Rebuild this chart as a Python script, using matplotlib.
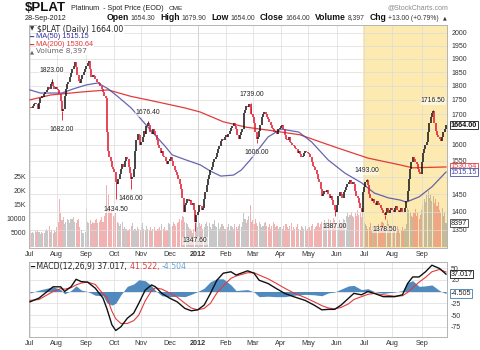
import numpy as np
import pandas as pd
import matplotlib
matplotlib.use('Agg')
import matplotlib.pyplot as plt
from matplotlib import font_manager, transforms
from matplotlib.ticker import NullLocator

# ------------------------------------------------------------------ data
# daily closes, one list per month (weekdays)
c_2011_07 = [1725,1722,1730,1735,1740,1734,1718,1740,1755,1765,1760,1772,1778,1785,1795,1790,1805,1815,1800,1790,1795]
c_2011_08 = [1790,1785,1770,1745,1712,1720,1765,1790,1805,1815,1830,1845,1860,1872,1888,1870,1840,1818,1810,1825,1840,1850,1860]
c_2011_09 = [1872,1885,1892,1860,1830,1840,1835,1825,1812,1815,1810,1800,1790,1778,1765,1755,1640,1580,1560,1550,1530,1525]
c_2011_10 = [1515,1485,1478,1495,1510,1525,1540,1530,1550,1560,1555,1530,1512,1495,1500,1525,1580,1615,1635,1630,1600]
c_2011_11 = [1610,1625,1645,1635,1660,1672,1665,1640,1635,1650,1645,1630,1615,1600,1590,1575,1580,1565,1560,1550,1540,1550]
c_2011_12 = [1555,1560,1548,1535,1522,1515,1505,1495,1480,1465,1440,1400,1420,1425,1435,1430,1432,1420,1425,1405,1370,1390]
c_2012_01 = [1400,1420,1415,1405,1410,1435,1455,1475,1495,1505,1520,1530,1545,1555,1560,1575,1585,1595,1612,1620,1615,1625]
c_2012_02 = [1630,1625,1635,1645,1655,1660,1670,1660,1650,1630,1620,1630,1640,1650,1705,1715,1730,1725,1735,1725,1700]
c_2012_03 = [1690,1670,1640,1618,1625,1645,1665,1690,1700,1708,1700,1690,1685,1675,1665,1655,1650,1640,1645,1635,1650,1655]
c_2012_04 = [1660,1665,1650,1630,1620,1615,1625,1610,1605,1600,1595,1590,1585,1575,1580,1570,1560,1565,1575,1580,1578]
c_2012_05 = [1575,1570,1560,1545,1535,1530,1520,1510,1495,1485,1465,1445,1450,1460,1455,1462,1450,1440,1445,1432,1420,1405,1400]
c_2012_06 = [1420,1445,1455,1450,1440,1455,1462,1470,1478,1485,1490,1480,1485,1478,1460,1445,1440,1425,1410,1400,1455]
c_2012_07 = [1470,1485,1490,1475,1450,1440,1430,1435,1425,1420,1430,1425,1420,1410,1405,1395,1390,1400,1410,1395,1405,1410]
c_2012_08 = [1405,1400,1410,1415,1405,1400,1402,1410,1400,1398,1410,1430,1460,1495,1525,1545,1560,1555,1545,1540,1525,1515,1510]
c_2012_09 = [1545,1575,1585,1600,1610,1640,1670,1690,1705,1712,1670,1645,1630,1625,1620,1612,1625,1640,1651,1664]

# daily volume, one list per month
v_2011_07 = [5500,5000,5200,4800,5600,5300,6000,5100,4700,5200,5000,4900,5500,6200,5800,7500,5200,6000,4800,5600,5300]
v_2011_08 = [7000,9000,17000,12000,9500,10500,8000,9000,10000,9500,8500,10000,9800,10500,9000,8500,9500,10000,7000,6000,5000,4800,5200]
v_2011_09 = [13800,9000,8500,9500,8000,9000,8500,9500,10000,8500,9000,9500,10500,9000,11000,12000,22000,19000,14000,12500,13000,11000]
v_2011_10 = [10500,12000,9000,8500,7500,8000,9000,6500,7000,6200,5800,6000,6500,7500,8500,6000,6200,5500,7000,6500,6000]
v_2011_11 = [7000,8500,6500,6000,7500,6500,6000,7000,5500,6500,7000,6000,5800,6500,7000,6000,8000,6500,7000,5500,6000,8500]
v_2011_12 = [8000,7000,7500,9000,8000,7500,8500,9000,10000,9500,11000,10500,9000,8500,8000,7000,6500,5500,5000,6500,7500,9500]
v_2012_01 = [7000,8500,7500,8000,6500,7000,8000,9000,7500,8500,7000,6500,8000,9500,7500,7000,8500,6500,7000,8000,7500,6500]
v_2012_02 = [6500,7000,8000,6000,7500,7000,6500,8000,7000,6500,7500,8000,7000,9000,12000,10000,8500,9500,11000,14800,9000]
v_2012_03 = [9500,8000,10000,8500,7500,9000,8000,7000,7500,8500,9000,7500,7000,8000,6500,7500,9000,8000,7000,7500,6500,7000]
v_2012_04 = [7000,6500,7500,6000,8000,7000,6500,7500,8500,6000,7000,6500,7000,8000,6500,6000,7500,7000,6500,7500,6000]
v_2012_05 = [6500,7000,6000,7500,8000,6500,7000,7500,8500,7000,8000,9000,8500,9500,8000,9000,10000,8500,9500,9000,10200,9500,8500]
v_2012_06 = [9000,8500,9500,8000,9000,10000,9500,11000,12000,10500,11500,12500,11000,10500,12000,11000,13000,11500,12000,10500,13500]
v_2012_07 = [9000,8000,7500,6500,7000,8500,6000,7500,6500,5500,7000,8000,6500,7500,9000,8500,7000,6000,9500,8000,7500,6500]
v_2012_08 = [6500,7000,5500,6000,7500,6500,5000,6000,7000,5500,6500,8000,14000,13000,12000,11000,10500,12000,13500,11000,12500,10000,11500]
v_2012_09 = [13000,15000,17000,16000,18500,20000,17500,19000,16500,18000,15500,17000,14500,16000,13000,12000,14000,11000,12500,8397]

# labelled highs / lows
ext_dates = ['2011-07-26','2011-08-05','2011-10-04','2011-10-20','2011-11-08','2011-12-29',
             '2012-02-29','2012-03-06','2012-05-30','2012-07-04','2012-07-24','2012-09-14']
ext_vals = [1823.00,1682.00,1434.50,1466.00,1676.40,1347.60,1739.00,1606.00,1387.00,1493.00,1378.50,1716.50]
ext_kind = ['H','L','L','L','H','L','H','L','L','H','L','H']

# moving averages
ma50_dates = ['2011-07-01','2011-07-13','2011-07-25','2011-08-05','2011-08-18','2011-09-01','2011-09-14',
              '2011-09-26','2011-10-06','2011-10-20','2011-11-08','2011-11-28','2011-12-05','2011-12-20',
              '2012-01-04','2012-01-16','2012-01-26','2012-02-09','2012-02-17','2012-02-28','2012-03-19',
              '2012-04-02','2012-04-20','2012-05-04','2012-05-23','2012-06-11','2012-06-28','2012-07-12',
              '2012-07-27','2012-08-09','2012-08-16','2012-08-30','2012-09-13','2012-09-28']
ma50_vals = [1785,1774,1774,1774,1789,1803,1810,1789,1760,1722,1658,1593,1568,1552,1537,1518,1503,1506,
             1521,1552,1625,1651,1641,1609,1552,1512,1483,1453,1439,1433,1427,1442,1471,1515.15]
ma200_dates = ['2011-07-01','2011-07-25','2011-08-29','2011-09-26','2011-10-20','2011-11-08','2011-12-19',
               '2012-01-04','2012-01-30','2012-02-23','2012-03-23','2012-04-23','2012-05-30','2012-07-05',
               '2012-08-09','2012-08-23','2012-09-28']
ma200_vals = [1750,1767,1778,1785,1762,1750,1722,1708,1675,1657,1645,1632,1593,1558,1537,1528,1530.64]

# MACD(12,26,9) line and signal
macd_dates = ['2011-07-01','2011-07-12','2011-07-27','2011-08-04','2011-08-09','2011-08-16','2011-08-22',
              '2011-08-26','2011-09-02','2011-09-12','2011-09-20','2011-09-23','2011-09-29','2011-10-04',
              '2011-10-10','2011-10-17','2011-10-24','2011-10-28','2011-11-04','2011-11-11','2011-11-16',
              '2011-11-23','2011-12-01','2011-12-09','2011-12-19','2011-12-26','2012-01-02','2012-01-09',
              '2012-01-16','2012-01-23','2012-01-30','2012-02-07','2012-02-13','2012-02-17','2012-02-24',
              '2012-03-02','2012-03-08','2012-03-19','2012-03-27','2012-04-05','2012-04-16','2012-04-27',
              '2012-05-08','2012-05-16','2012-05-23','2012-05-30','2012-06-06','2012-06-14','2012-06-20',
              '2012-06-28','2012-07-05','2012-07-12','2012-07-23','2012-08-03','2012-08-13','2012-08-17',
              '2012-08-23','2012-08-30','2012-09-06','2012-09-13','2012-09-21','2012-09-28']
macd_vals = [-22,-14,10,10,0,10,26,21,20,7,-14,-36,-71,-83,-75,-57,-46,-25,3,14,10,-4,-14,-22,-36,-41,-39,
             -29,-4,24,39,42,35,39,44,39,24,17,7,-4,-11,-19,-29,-39,-38,-38,-29,-14,-4,-7,0,-4,-11,-11,-7,
             17,31,31,42,56,49,37.017]
signal_vals = [-19,-17,0,6,5,8,14,18,20,15,-5,-12,-42,-58,-68,-68,-62,-50,-20,2,8,5,-3,-12,-25,-35,-39,
               -36,-25,-3,12,28,33,36,40,40,35,27,18,7,-3,-13,-22,-30,-35,-37,-34,-26,-17,-11,-6,-4,-7,
               -10,-9,-2,8,20,30,42,47,41.522]

price_ticks = [1350,1400,1450,1500,1550,1600,1650,1700,1750,1800,1850,1900,1950,2000]
price_tick_labels = ['1350','1400','1450','','1550','1600','','1700','1750','1800','1850','1900','1950','2000']
vol_ticks = [5000,10000,15000,20000,25000]
vol_tick_labels = ['5000','10000','15K','20K','25K']
macd_ticks = [-75,-50,-25,0,25,50]
macd_tick_labels = ['-75','-50','-25','','25','50']
month_labels = ['Jul','Aug','Sep','Oct','Nov','Dec','2012','Feb','Mar','Apr','May','Jun','Jul','Aug','Sep']

# ------------------------------------------------------------------ assemble
closes = np.array(sum([c_2011_07,c_2011_08,c_2011_09,c_2011_10,c_2011_11,c_2011_12,c_2012_01,c_2012_02,
                       c_2012_03,c_2012_04,c_2012_05,c_2012_06,c_2012_07,c_2012_08,c_2012_09], []), float)
volume = np.array(sum([v_2011_07,v_2011_08,v_2011_09,v_2011_10,v_2011_11,v_2011_12,v_2012_01,v_2012_02,
                       v_2012_03,v_2012_04,v_2012_05,v_2012_06,v_2012_07,v_2012_08,v_2012_09], []), float)
dates = pd.bdate_range('2011-07-01', '2012-09-28')
N = len(dates)
assert N == len(closes) == len(volume)
idx = np.arange(N)

def pos(dlist):
    return dates.get_indexer(pd.to_datetime(dlist), method='nearest')

prev = np.concatenate([[closes[0]], closes[:-1]])
down = closes < prev
month_start = [i for i in range(N) if i == 0 or dates[i].month != dates[i - 1].month]
hl_start = [i for i in month_start if dates[i] >= pd.Timestamp('2012-07-01')][0]
year_idx = [i for i in month_start if dates[i].month == 1][0]

# ------------------------------------------------------------------ fonts
def has_font(name):
    try:
        font_manager.findfont(font_manager.FontProperties(family=name), fallback_to_default=False)
        return True
    except Exception:
        return False
ARIAL = 'Liberation Sans'
NARROW = 'Liberation Sans Narrow' if has_font('Liberation Sans Narrow') else ARIAL
plt.rcParams['font.family'] = [ARIAL, 'DejaVu Sans']

# ------------------------------------------------------------------ figure
W, H = 480, 350
fig = plt.figure(figsize=(4.8, 3.5), dpi=100)
fig.patch.set_facecolor('white')

def rect(l, t, r, b):
    return [l / W, 1 - b / H, (r - l) / W, (b - t) / H]

GRID = '#DCDCDC'
FRAME = '#B4B4B4'
TXT = '#333333'
RED = '#E0142A'
BLUE_MA = '#4B4BA6'
RED_MA = '#E23B3B'
XL = (-0.8, N - 0.2)

axv = fig.add_axes(rect(29, 25, 447, 248), zorder=1)
ax = fig.add_axes(rect(29, 25, 447, 248), zorder=2, facecolor='none')
axm = fig.add_axes(rect(29, 262, 447, 337), zorder=1)

# ---- volume layer (bottom)
axv.set_xlim(*XL)
axv.set_ylim(-450, 79200)
axv.axvspan(hl_start - 0.6, XL[1], color='#FCEAB0', zorder=0, lw=0)
vcol = np.where(down, '#E04848', '#7A7A7A')
axv.bar(idx, volume, width=0.85, color=vcol, alpha=0.42, lw=0, zorder=2)
axv.set_yticks(vol_ticks)
axv.set_yticklabels(vol_tick_labels)
axv.tick_params(axis='y', length=0, pad=2.2, labelsize=5, colors=TXT)
axv.set_xticks([])
for s in axv.spines.values():
    s.set_visible(False)

# ---- price layer
ax.set_xlim(*XL)
ax.set_yscale('log')
ax.set_ylim(1302, 2032)
ax.yaxis.set_minor_locator(NullLocator())
ax.set_yticks(price_ticks)
ax.set_yticklabels(price_tick_labels)
ax.yaxis.tick_right()
ax.tick_params(axis='y', length=0, pad=3, labelsize=5, colors=TXT)
ax.set_xticks(month_start)
ax.set_xticklabels(month_labels)
ax.tick_params(axis='x', length=0, pad=2.5, labelsize=5.2, colors=TXT)
for lab in ax.get_xticklabels():
    if lab.get_text() == '2012':
        lab.set_fontweight('bold')
ax.grid(True, color=GRID, lw=0.5, zorder=0)
ax.axvline(year_idx, color='#B8B8B8', lw=0.6, zorder=0)
for s in ax.spines.values():
    s.set_color(FRAME)
    s.set_linewidth(0.7)

# MAs
ax.plot(pos(ma200_dates), ma200_vals, color=RED_MA, lw=0.9, zorder=3)
ax.plot(pos(ma50_dates), ma50_vals, color=BLUE_MA, lw=0.9, alpha=0.85, zorder=3)

# candles (body from previous close to close)
ccol = np.where(down, RED, '#111111')
lo = np.minimum(prev, closes)
hi = np.maximum(prev, closes)
ax.vlines(idx, lo, hi, colors=ccol, lw=1.1, zorder=4)
ex_i = pos(ext_dates)
ax.vlines(ex_i, closes[ex_i], ext_vals, colors=ccol[ex_i], lw=0.6, zorder=4)

for i, v, k in zip(ex_i, ext_vals, ext_kind):
    ax.annotate(f'{v:.2f}', (i, v), xytext=(0, 6.2 if k == 'H' else -7.2), textcoords='offset points',
                ha='center', va='center', fontsize=4.9, color='#222222', zorder=6,
                bbox=dict(boxstyle='square,pad=0.05', fc='white', ec='none', alpha=0.55))

# right-side value boxes
tr_p = transforms.blended_transform_factory(ax.transAxes, ax.transData)
def vbox(axx, tr, y, s, ec, tc, bold=False):
    axx.text(1.0085, y, s, transform=tr, ha='left', va='center', fontsize=5.2, color=tc,
             fontweight='bold' if bold else 'normal', clip_on=False, zorder=10,
             bbox=dict(boxstyle='square,pad=0.1', fc='white', ec=ec, lw=0.6))
vbox(ax, tr_p, ma200_vals[-1], f'{ma200_vals[-1]:.2f}', RED_MA, RED_MA)
vbox(ax, tr_p, ma50_vals[-1], f'{ma50_vals[-1]:.2f}', BLUE_MA, BLUE_MA)
vbox(ax, tr_p, closes[-1], f'{closes[-1]:.2f}', '#111111', '#111111', bold=True)
tr_v = transforms.blended_transform_factory(axv.transAxes, axv.transData)
vbox(axv, tr_v, volume[-1], f'{int(volume[-1])}', '#444444', '#222222')

# ---- MACD panel
mx = pos(macd_dates)
macd = np.array(macd_vals, float)
sig = np.array(signal_vals, float)
hist = macd - sig
axm.set_xlim(*XL)
axm.set_ylim(-96.8, 62.8)
axm.fill_between(mx, hist, 0, color='#3D7DB7', alpha=0.9, lw=0, zorder=2)
axm.plot(mx, sig, color=RED_MA, lw=0.8, zorder=3)
axm.plot(mx, macd, color='#111111', lw=1.0, zorder=4)
axm.set_yticks(macd_ticks)
axm.set_yticklabels(macd_tick_labels)
axm.yaxis.tick_right()
axm.tick_params(axis='y', length=0, pad=3, labelsize=5, colors=TXT)
axm.set_xticks(month_start)
axm.set_xticklabels(month_labels)
axm.tick_params(axis='x', length=0, pad=2.5, labelsize=5.2, colors=TXT)
for lab in axm.get_xticklabels():
    if lab.get_text() == '2012':
        lab.set_fontweight('bold')
axm.grid(True, color=GRID, lw=0.5, zorder=0)
axm.axvline(year_idx, color='#B8B8B8', lw=0.6, zorder=0)
for s in axm.spines.values():
    s.set_color(FRAME)
    s.set_linewidth(0.7)
tr_m = transforms.blended_transform_factory(axm.transAxes, axm.transData)
vbox(axm, tr_m, hist[-1], f'{hist[-1]:.3f}', '#3D7DB7', '#222222')
vbox(axm, tr_m, macd[-1], f'{macd[-1]:.3f}', '#111111', '#111111')

# ------------------------------------------------------------------ texts
renderer = fig.canvas.get_renderer()

def ptext(x, y, s, **kw):
    return fig.text(x / W, 1 - y / H, s, va='center', ha=kw.pop('ha', 'left'), **kw)

def chain(x, y, parts, gap=0.0):
    for s, kw in parts:
        t = ptext(x, y, s, **kw)
        x += t.get_window_extent(renderer).width + gap
    return x

# header
chain(25, 8.3, [('$PLAT', dict(fontsize=9.5, fontweight='bold', family=NARROW, color='#111111')),
                ('  Platinum  - Spot Price (EOD)  ', dict(fontsize=5.2, family=ARIAL, color='#222222')),
                ('CME', dict(fontsize=4.6, family=ARIAL, color='#222222'))], gap=1.0)
ptext(448, 7.5, '@StockCharts.com', fontsize=5.0, family=ARIAL, color='#8A8A8A', ha='right')
ptext(25, 18.0, '28-Sep-2012', fontsize=5.2, family=ARIAL, color='#222222')

B = dict(fontsize=6.2, fontweight='bold', family=ARIAL, color='#111111')
R = dict(fontsize=4.9, family=ARIAL, color='#333333')
hdr = [('Open', B), ('1654.30', R), ('High', B), ('1679.90', R), ('Low', B), ('1654.00', R),
       ('Close', B), ('1664.00', R), ('Volume', B), ('8,397', R), ('Chg', B), ('+13.00 (+0.79%)', R),
       ('\u25b2', dict(fontsize=3.5, family='DejaVu Sans', color='#333333'))]
widths = []
for s, kw in hdr:
    t = ptext(0, -100, s, **kw)
    widths.append(t.get_window_extent(renderer).width)
    t.remove()
small_gap = 1.6
n_big = 6
big_gap = (447 - 107 - sum(widths) - small_gap * 6) / n_big
x = 107
for k, ((s, kw), w) in enumerate(zip(hdr, widths)):
    ptext(x, 18.0, s, **kw)
    x += w + (small_gap if k % 2 == 0 else big_gap)

# legend of main panel
bbox_w = dict(boxstyle='square,pad=0.05', fc='white', ec='none', alpha=0.85)
ptext(29.5, 29, '\u25bc', fontsize=4.0, family='DejaVu Sans', color='#333333')
ptext(37, 29, '$PLAT (Daily) 1664.00', fontsize=5.6, family='DejaVu Sans', color='#222222', bbox=bbox_w)
ptext(29.5, 37, '\u2501', fontsize=5, family='DejaVu Sans', color=BLUE_MA)
ptext(36.5, 37, 'MA(50) 1515.15', fontsize=5.3, family=ARIAL, color='#3030A0', bbox=bbox_w)
ptext(29.5, 44.5, '\u2501', fontsize=5, family='DejaVu Sans', color=RED_MA)
ptext(36.5, 44.5, 'MA(200) 1530.64', fontsize=5.3, family=ARIAL, color=RED_MA, bbox=bbox_w)
ptext(29.5, 51.5, '\u25b2', fontsize=3.8, family='DejaVu Sans', color='#666666')
ptext(36, 51.5, 'Volume 8,397', fontsize=5.3, family='DejaVu Sans', color='#666666', bbox=bbox_w)

# legend of MACD panel
M = dict(fontsize=5.6, family='DejaVu Sans')
chain(30, 266.5, [('\u2501', dict(M, color='#111111', fontsize=5)),
                  (' MACD(12,26,9) 37.017, ', dict(M, color='#222222')),
                  ('41.522, ', dict(M, color=RED_MA)),
                  ('-4.504', dict(M, color='#6BA3D6'))])

fig.savefig('out.png', dpi=100, facecolor='white')
